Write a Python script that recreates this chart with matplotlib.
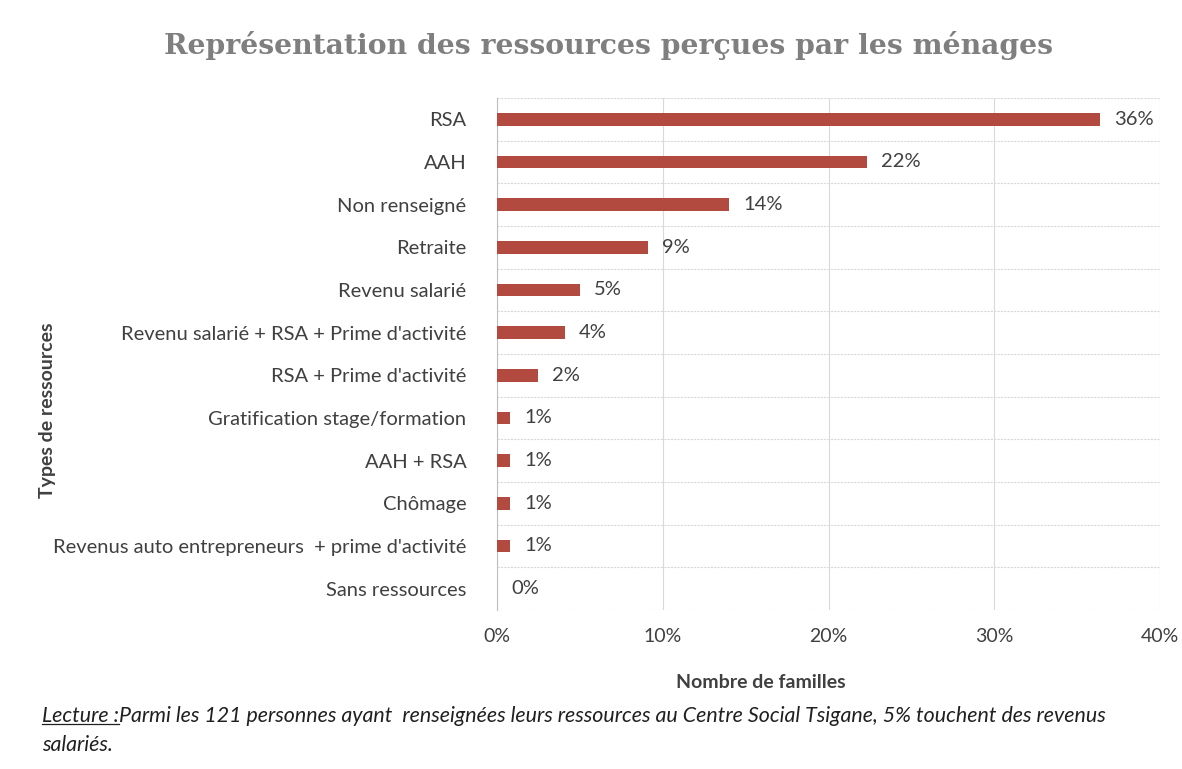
import numpy as np
import matplotlib
matplotlib.use("Agg")
import matplotlib.pyplot as plt
from matplotlib.ticker import FuncFormatter, MultipleLocator
from matplotlib.lines import Line2D

# data (share of households, %)
categories = [
    "RSA",
    "AAH",
    "Non renseigné",
    "Retraite",
    "Revenu salarié",
    "Revenu salarié + RSA + Prime d'activité",
    "RSA + Prime d'activité",
    "Gratification stage/formation",
    "AAH + RSA",
    "Chômage",
    "Revenus auto entrepreneurs  + prime d'activité",
    "Sans ressources",
]
values = [36.4, 22.3, 14.0, 9.1, 5.0, 4.1, 2.5, 0.8, 0.8, 0.8, 0.8, 0.0]
x_ticks = [0, 10, 20, 30, 40]

bar_color = "#B24A40"
text_color = "#404040"
grid_color = "#D9D9D9"

plt.rcParams['font.family'] = ['Lato', 'DejaVu Sans']

fig = plt.figure(figsize=(11.82, 7.69), dpi=100)
ax = fig.add_axes([0.4205, 0.2068, 0.5609, 0.6658])

y = np.arange(len(categories))
ax.barh(y, values, height=0.3, color=bar_color, zorder=3)
for yi, v in zip(y, values):
    ax.annotate("%.0f%%" % round(v), (v, yi), xytext=(10, 0), textcoords="offset points",
                va="center", ha="left", fontsize=14.5, color=text_color)

ax.set_ylim(len(categories) - 0.5, -0.5)
ax.set_xlim(0, 40)
ax.set_yticks(y)
ax.set_yticklabels(categories, fontsize=14.5, color=text_color)
ax.set_xticks(x_ticks)
ax.xaxis.set_major_formatter(FuncFormatter(lambda v, p: "%d%%" % v))
ax.tick_params(axis="x", labelsize=14, colors=text_color, length=0, pad=13)
ax.tick_params(axis="y", length=0, pad=22)

# category separators + vertical gridlines
ax.yaxis.set_minor_locator(MultipleLocator(1, offset=0.5))
ax.tick_params(axis="y", which="minor", length=0)
ax.grid(True, axis="y", which="minor", color=grid_color, linewidth=0.8, linestyle=(0, (2, 1)), zorder=0)
ax.grid(True, axis="x", which="major", color=grid_color, linewidth=0.8, zorder=0)
for s in ["top", "right", "bottom"]:
    ax.spines[s].set_visible(False)
ax.spines["left"].set_color("#BFBFBF")
ax.spines["left"].set_linewidth(0.8)

fig.text(0.644, 0.113, "Nombre de familles", fontsize=14, fontweight="bold", color=text_color,
         ha="center", va="center")
fig.text(0.040, 0.467, "Types de ressources", rotation=90, fontsize=14, fontweight="bold",
         color=text_color, ha="center", va="center")

fig.text(0.515, 0.941, "Représentation des ressources perçues par les ménages",
         family=["DejaVu Serif"], fontsize=20.3, fontweight="bold",
         color="#7F7F7F", ha="center", va="center")

# reading note at the bottom
lec = fig.text(0.0355, 0.069, "Lecture :", fontsize=15.4, style="italic", color="#202020", va="center")
fig.canvas.draw()
bb = lec.get_window_extent().transformed(fig.transFigure.inverted())
fig.add_artist(Line2D([bb.x0, bb.x1], [bb.y0 + 0.002, bb.y0 + 0.002], color="#202020",
                      linewidth=0.9, transform=fig.transFigure))
fig.text(bb.x1, 0.069, "Parmi les 121 personnes ayant  renseignées leurs ressources au Centre Social Tsigane, 5% touchent des revenus",
         fontsize=15.4, style="italic", color="#202020", va="center")
fig.text(0.0355, 0.031, "salariés.", fontsize=15.4, style="italic", color="#202020", va="center")

fig.savefig("out.png", dpi=100)
